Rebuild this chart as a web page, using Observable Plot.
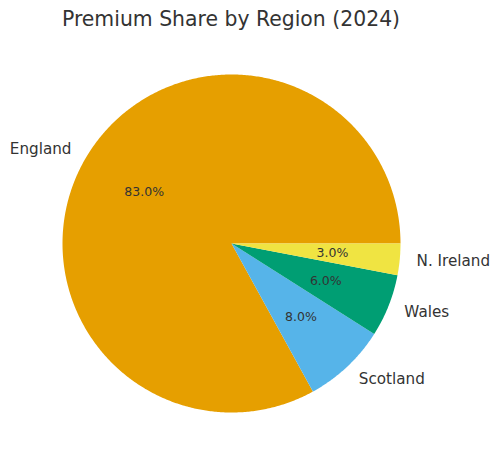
<!DOCTYPE html>
<html>
<head>
<meta charset="utf-8">
<script src="https://cdn.jsdelivr.net/npm/d3@7"></script>
<script src="https://cdn.jsdelivr.net/npm/@observablehq/plot@0.6"></script>
<style>
  body { margin: 0; background: #fff; font-family: "DejaVu Sans", sans-serif; }
  #title { width: 462px; height: 36px; line-height: 36px; padding-top: 1px; box-sizing: border-box; text-align: center; font-size: 20.4px; color: #333; }
</style>
</head>
<body>
<div id="title">Premium Share by Region (2024)</div>
<div id="chart"></div>
<script>
const regions = ["England", "Scotland", "Wales", "N. Ireland"];
const shares = [83.0, 8.0, 6.0, 3.0];
const colors = ["#E69F00", "#56B4E9", "#009E73", "#F0E442"];

const W = 499, H = 428, cx = 231, cy = 207, R = 169;
const total = d3.sum(shares);

let start = 0;
const slices = regions.map((name, i) => {
  const a0 = start, a1 = start + shares[i] / total * 360;
  start = a1;
  const pts = [{x: 0, y: 0}];
  const n = Math.max(2, Math.ceil((a1 - a0) / 0.5));
  for (let k = 0; k <= n; k++) {
    const a = (a0 + (a1 - a0) * k / n) * Math.PI / 180;
    pts.push({x: Math.cos(a), y: Math.sin(a)});
  }
  pts.push({x: 0, y: 0});
  const mid = (a0 + a1) / 2 * Math.PI / 180;
  return {name, share: shares[i], color: colors[i], pts, mid};
});

const labels = slices.map(s => ({
  text: s.name,
  x: 1.1 * Math.cos(s.mid),
  y: 1.1 * Math.sin(s.mid),
  anchor: Math.cos(s.mid) < 0 ? "end" : "start"
}));
const pcts = slices.map(s => ({
  text: s.share.toFixed(1) + "%",
  x: 0.6 * Math.cos(s.mid),
  y: 0.6 * Math.sin(s.mid)
}));

const chart = Plot.plot({
  width: W, height: H,
  margin: 0,
  x: {domain: [-cx / R, (W - cx) / R], range: [0, W], axis: null},
  y: {domain: [-(H - cy) / R, cy / R], range: [H, 0], axis: null},
  style: {fontFamily: "DejaVu Sans, sans-serif", background: "#fff"},
  marks: [
    ...slices.map(s => Plot.line(s.pts, {x: "x", y: "y", fill: s.color, stroke: "none", curve: "linear"})),
    Plot.text(labels.filter(d => d.anchor === "end"), {x: "x", y: "y", text: "text", textAnchor: "end", fontSize: 15.2, fill: "#333"}),
    Plot.text(labels.filter(d => d.anchor === "start"), {x: "x", y: "y", text: "text", textAnchor: "start", fontSize: 15.2, fill: "#333"}),
    Plot.text(pcts, {x: "x", y: "y", text: "text", fontSize: 12.5, fill: "#333"})
  ]
});
document.getElementById("chart").appendChild(chart);
</script>
</body>
</html>
